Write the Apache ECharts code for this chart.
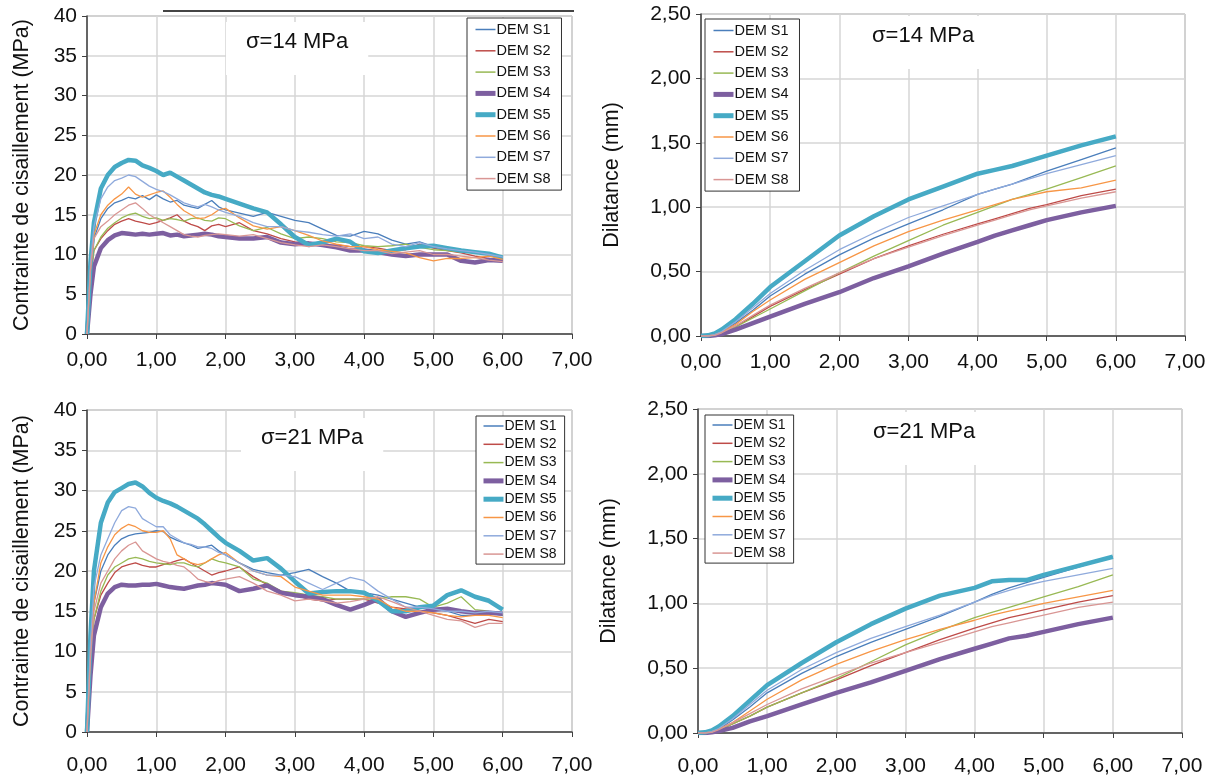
<!DOCTYPE html>
<html><head><meta charset="utf-8">
<script src="https://cdn.jsdelivr.net/npm/echarts@6/dist/echarts.min.js"></script>
<style>html,body{margin:0;padding:0;background:#fff}#c{width:1217px;height:780px}</style>
</head><body><div id="c"></div>
<script>
// ---------- DATA ----------
const NAMES = ['DEM S1','DEM S2','DEM S3','DEM S4','DEM S5','DEM S6','DEM S7','DEM S8'];
const X_TICKS = [0,1,2,3,4,5,6,7];
const X_SHEAR = [0,0.05,0.1,0.2,0.3,0.4,0.5,0.6,0.7,0.8,0.9,1.0,1.1,1.2,1.3,1.4,1.5,1.6,1.7,1.8,1.9,2.0,2.2,2.4,2.6,2.8,3.0,3.2,3.4,3.6,3.8,4.0,4.2,4.4,4.6,4.8,5.0,5.2,5.4,5.6,5.8,6.0];
const X_DIL = [0,0.1,0.2,0.3,0.5,0.75,1.0,1.5,2.0,2.5,3.0,3.5,4.0,4.25,4.5,4.75,5.0,5.5,6.0];

// shear stress, sigma = 14 MPa
const T14_S1 = [0,8,12,14.5,15.8,16.5,16.8,17.2,17.0,17.4,16.9,17.5,17.0,16.6,16.8,16.2,16.0,15.8,16.3,16.8,16.0,15.6,15.2,14.8,15.3,14.8,14.3,14.0,13.2,12.4,12.3,12.9,12.6,11.8,11.3,11.6,11.0,10.8,10.5,10.2,10.0,9.5];
const T14_S2 = [0,7,10.5,12,13,13.8,14.2,14.5,14.2,14.0,13.8,14.0,14.3,14.6,15.0,14.2,13.8,13.5,13.0,13.6,13.8,13.5,14.0,13.0,12.6,12.0,11.6,11.5,11.1,11.2,11.0,11.0,10.8,10.5,10.6,11.3,10.8,10.5,10.2,9.8,9.5,9.2];
const T14_S3 = [0,7,10.5,12.2,13.3,14.0,14.6,15.0,15.2,14.8,14.5,14.6,14.3,14.5,14.4,14.2,14.5,14.6,14.3,14.2,14.6,14.5,13.6,13.0,13.4,12.6,12.0,12.2,12.0,11.6,11.5,11.1,11.0,11.1,11.3,10.9,10.6,10.5,10.3,10.2,10.0,9.8];
const T14_S4 = [0,5,8.5,10.8,11.8,12.4,12.7,12.6,12.5,12.6,12.5,12.6,12.7,12.4,12.5,12.3,12.4,12.5,12.6,12.5,12.3,12.2,12.0,12.0,12.2,11.5,11.3,11.4,11.2,10.9,10.5,10.5,10.3,10.0,9.8,10.0,10.0,10.0,9.2,9.0,9.3,9.2];
const T14_S5 = [0,9,14,18.3,20.0,21.0,21.5,21.9,21.8,21.2,20.9,20.5,20.0,20.3,19.8,19.3,18.8,18.3,17.8,17.5,17.3,17.0,16.4,15.8,15.3,13.8,12.2,11.2,11.5,12.0,11.6,10.4,10.2,10.5,10.8,11.0,11.1,10.8,10.5,10.3,10.1,9.6];
const T14_S6 = [0,8,12.5,15.0,16.2,17.0,17.6,18.5,17.6,17.2,17.5,17.8,18.0,17.2,16.3,15.5,15.0,14.5,14.6,15.0,15.6,15.8,14.6,13.6,13.2,13.5,13.0,12.4,11.7,11.3,11.0,11.0,10.6,10.4,10.2,9.6,9.2,9.5,9.5,9.6,9.8,9.4];
const T14_S7 = [0,9,13.5,17.0,18.5,19.3,19.6,20.0,19.8,19.2,18.6,18.2,17.9,17.5,17.0,16.5,16.2,16.0,16.3,16.0,15.6,15.3,14.8,14.0,13.5,13.5,13.0,12.8,12.5,12.3,12.6,12.0,12.2,11.3,11.0,11.5,11.0,10.7,10.5,10.3,10.0,9.7];
const T14_S8 = [0,8,12,13.5,14.2,15.0,15.6,16.2,16.5,15.8,15.0,14.5,14.0,13.5,13.0,12.5,12.3,12.2,12.4,12.5,12.6,12.5,12.3,12.5,12.0,11.5,11.2,11.0,11.2,11.0,10.7,10.5,10.5,10.1,10.3,10.5,10.0,10.0,9.8,9.6,9.3,9.1];

// shear stress, sigma = 21 MPa
const T21_S1 = [0,10,16,20,22,23.2,24,24.4,24.6,24.7,24.8,25,24.9,24.2,23.8,23.5,23.2,22.8,23.0,23.2,22.5,22,21,20.2,19.8,19.5,19.8,20.2,19.3,18.5,17.5,17.3,17.0,16.5,16.0,15.5,15.3,15.0,14.5,14.5,14.8,14.5];
const T21_S2 = [0,9,14,17,18.5,19.8,20.5,20.8,21,20.7,20.5,20.5,20.8,21,21.3,21.5,21,20.5,20,19.5,19.8,20,20.5,19.3,18.3,17.5,17,16.5,16.3,16.5,16.5,16.5,16,15.5,15.3,15,14.8,14.5,14,13.5,14,13.7];
const T21_S3 = [0,9,14,17.5,19.5,20.5,21,21.5,21.7,21.5,21.2,21,20.9,20.8,21,21,20.7,20.5,21,21.5,21.2,21,20.5,19,18.5,17.5,17.3,17,16.8,16.5,16.5,16.5,16.5,16.8,16.8,16.5,15.5,16,16.8,15.2,15,14.5];
const T21_S4 = [0,7,12,15.5,17.2,18,18.3,18.2,18.2,18.3,18.3,18.4,18.2,18,17.9,17.8,18,18.2,18.3,18.5,18.4,18.3,17.5,17.8,18.2,17.3,17,16.8,16.5,15.8,15.2,15.8,16.5,15,14.3,14.8,15.2,15.3,15,14.8,14.8,14.7];
const T21_S5 = [0,12,20,26,28.5,29.8,30.3,30.8,31,30.5,29.7,29.1,28.7,28.4,28,27.5,27,26.5,25.8,25,24.2,23.5,22.5,21.3,21.6,20.3,18.7,17.2,17.4,17.5,17.5,17.3,16.3,15,15,15.5,15.7,17,17.6,16.8,16.3,15.2];
const T21_S6 = [0,10,16,21,23,24.5,25.3,25.8,25.5,25,24.8,24.8,25,24,22,21.5,21,20.8,21,21.5,22,22.3,21,20,19.5,19.3,18,17.5,17,17,17,16.8,16.5,15.5,15,15,14.8,14.5,14.3,14.5,14.5,14.2];
const T21_S7 = [0,11,18,22,24,26,27.5,28,27.8,26.5,26,25.5,25.5,24.5,24,23.5,23.3,23,23,22.8,22.3,22,21,20,19.5,19.5,19.3,18.5,17.7,18.5,19.2,18.8,17.5,16.5,15.5,15.5,15.3,15,15,14.8,15,14.8];
const T21_S8 = [0,9,15,18.5,20,21.5,22.5,23.2,23.6,22.5,22,21.5,21.2,21,20.7,20.5,19.8,19,18.7,18.5,18.8,19,19.3,18.5,17.5,17,16.3,16.5,16.3,16,16.2,16.5,16.8,16.2,15.5,15,14.5,14,13.8,13,13.5,13.5];

// dilatance, sigma = 14 MPa
const D14_S1 = [0,0,0.01,0.03,0.1,0.2,0.31,0.48,0.63,0.76,0.87,0.98,1.1,1.14,1.18,1.23,1.28,1.37,1.46];
const D14_S2 = [0,0,0.005,0.02,0.07,0.15,0.23,0.36,0.48,0.6,0.7,0.79,0.87,0.91,0.95,0.99,1.02,1.09,1.14];
const D14_S3 = [0,0,0.005,0.02,0.07,0.14,0.21,0.35,0.49,0.62,0.74,0.86,0.96,1.01,1.06,1.1,1.14,1.23,1.32];
const D14_S4 = [0,0,0.005,0.015,0.05,0.1,0.15,0.25,0.34,0.45,0.54,0.64,0.73,0.78,0.82,0.86,0.9,0.96,1.01];
const D14_S5 = [0,0.005,0.02,0.05,0.13,0.25,0.38,0.58,0.78,0.93,1.06,1.16,1.26,1.29,1.32,1.36,1.40,1.48,1.55];
const D14_S6 = [0,0,0.01,0.03,0.09,0.19,0.28,0.44,0.57,0.7,0.81,0.9,0.98,1.02,1.06,1.09,1.12,1.15,1.21];
const D14_S7 = [0,0,0.01,0.035,0.11,0.22,0.33,0.51,0.67,0.8,0.92,1.01,1.1,1.14,1.18,1.22,1.26,1.33,1.40];
const D14_S8 = [0,0,0.005,0.025,0.08,0.16,0.24,0.37,0.49,0.6,0.69,0.78,0.86,0.9,0.94,0.98,1.01,1.07,1.12];

// dilatance, sigma = 21 MPa
const D21_S1 = [0,0,0.01,0.03,0.1,0.2,0.31,0.46,0.59,0.7,0.8,0.9,1.01,1.07,1.12,1.16,1.2,1.28,1.36];
const D21_S2 = [0,0,0.005,0.02,0.07,0.13,0.2,0.31,0.41,0.52,0.62,0.72,0.81,0.85,0.89,0.92,0.95,1.01,1.06];
const D21_S3 = [0,0,0.005,0.02,0.07,0.13,0.2,0.31,0.42,0.55,0.68,0.79,0.89,0.93,0.97,1.01,1.05,1.13,1.22];
const D21_S4 = [0,0,0.005,0.015,0.04,0.09,0.13,0.22,0.31,0.39,0.48,0.57,0.65,0.69,0.73,0.75,0.78,0.84,0.89];
const D21_S5 = [0,0.005,0.02,0.05,0.13,0.25,0.37,0.54,0.7,0.84,0.96,1.06,1.12,1.17,1.18,1.18,1.22,1.29,1.36];
const D21_S6 = [0,0,0.01,0.03,0.08,0.17,0.26,0.41,0.53,0.63,0.72,0.8,0.87,0.91,0.94,0.97,1.0,1.05,1.1];
const D21_S7 = [0,0,0.01,0.035,0.11,0.22,0.33,0.49,0.62,0.73,0.82,0.91,1.01,1.06,1.1,1.14,1.17,1.22,1.27];
const D21_S8 = [0,0,0.005,0.025,0.08,0.15,0.22,0.34,0.44,0.54,0.62,0.7,0.78,0.82,0.85,0.88,0.91,0.97,1.01];

const TITLES = ['σ=14 MPa','σ=14 MPa','σ=21 MPa','σ=21 MPa'];
const Y_NAMES = ['Contrainte de cisaillement (MPa)','Dilatance (mm)','Contrainte de cisaillement (MPa)','Dilatance (mm)'];

// ---------- STYLE ----------
const COLORS = ['#4A7EBB','#BE4B48','#98B954','#7D5FA0','#46AAC5','#F79646','#8FAADC','#D99694'];
const WIDTHS = [1.3,1.3,1.3,4.5,4.5,1.3,1.3,1.3];
const FONT = 'Liberation Sans, Arial, sans-serif';

const panels = [
  {x: X_SHEAR, ys: [T14_S1,T14_S2,T14_S3,T14_S4,T14_S5,T14_S6,T14_S7,T14_S8], type:'shear'},
  {x: X_DIL,   ys: [D14_S1,D14_S2,D14_S3,D14_S4,D14_S5,D14_S6,D14_S7,D14_S8], type:'dil'},
  {x: X_SHEAR, ys: [T21_S1,T21_S2,T21_S3,T21_S4,T21_S5,T21_S6,T21_S7,T21_S8], type:'shear'},
  {x: X_DIL,   ys: [D21_S1,D21_S2,D21_S3,D21_S4,D21_S5,D21_S6,D21_S7,D21_S8], type:'dil'}
];

const GRIDS = [
  {left:87, top:16, width:485, height:318},
  {left:701, top:14, width:484, height:322},
  {left:87, top:410, width:485, height:322},
  {left:698, top:409, width:484, height:324}
];
const LABEL_MARGIN = [16, 16, 23, 23];
const LEGENDS = [
  {left:467, top:18, itemHeight:14, itemGap:6.3, padding:[4,11,4,6], fontSize:14.5},
  {left:705, top:19, itemHeight:14, itemGap:6.3, padding:[4,11,4,6], fontSize:14.5},
  {left:476, top:416, itemHeight:13, itemGap:4.3, padding:[3,8,3,5], fontSize:14},
  {left:705, top:415, itemHeight:13, itemGap:4.3, padding:[3,8,3,5], fontSize:14}
];
const TITLE_POS = [
  {left:226, top:22},
  {left:852, top:16},
  {left:241, top:418},
  {left:853, top:412}
];

const comma = (v, d) => v.toFixed(d).replace('.', ',');

const option = {
  animation: false,
  backgroundColor: '#fff',
  textStyle: {fontFamily: FONT},
  grid: GRIDS.map(g => Object.assign({show:true, borderColor:'#8c8c8c', borderWidth:1, backgroundColor:'transparent'}, g)),
  title: TITLES.map((t, i) => ({
    text: t, left: TITLE_POS[i].left, top: TITLE_POS[i].top,
    backgroundColor: '#fff',
    padding: [9, 20, 22, 20],
    textStyle: {fontFamily: FONT, fontSize: 22, fontWeight: 'normal', color: '#111'}
  })),
  legend: LEGENDS.map((l, i) => ({
    orient: 'vertical', left: l.left, top: l.top,
    itemWidth: 20, itemHeight: l.itemHeight, itemGap: l.itemGap, padding: l.padding,
    borderColor: '#333', borderWidth: 1, backgroundColor: '#fff',
    itemStyle: {opacity: 0, color: 'rgba(0,0,0,0)', borderWidth: 0},
    textStyle: {fontFamily: FONT, fontSize: l.fontSize, color: '#111', padding: [0,0,0,-4]},
    data: NAMES.map((n, k) => ({name: n, lineStyle: {width: WIDTHS[k] > 2 ? 5 : 1.5, color: COLORS[k], opacity: 1}})),
    selectedMode: false
  })),
  xAxis: panels.map((p, i) => ({
    type: 'value', gridIndex: i, min: X_TICKS[0], max: X_TICKS[X_TICKS.length - 1], interval: 1,
    axisLine: {show: true, lineStyle: {color: '#404040', width: 1.5}},
    axisTick: {show: true, length: 5, lineStyle: {color: '#404040'}},
    splitLine: {show: true, lineStyle: {color: '#d6d6d6', width: 1.5}},
    axisLabel: {fontFamily: FONT, fontSize: 21, color: '#111', margin: LABEL_MARGIN[i], formatter: v => comma(v, 2)}
  })),
  yAxis: panels.map((p, i) => ({
    type: 'value', gridIndex: i, min: 0,
    max: p.type === 'shear' ? 40 : 2.5, interval: p.type === 'shear' ? 5 : 0.5,
    name: Y_NAMES[i], nameLocation: 'middle', nameGap: p.type === 'shear' ? 54 : 78,
    nameTextStyle: {fontFamily: FONT, fontSize: 21.5, color: '#111'},
    axisLine: {show: true, lineStyle: {color: '#404040', width: 1.5}},
    axisTick: {show: true, length: 5, lineStyle: {color: '#404040'}},
    splitLine: {show: true, lineStyle: {color: '#d6d6d6', width: 1.5}},
    axisLabel: {fontFamily: FONT, fontSize: 21, color: '#111', margin: 10,
      formatter: v => p.type === 'shear' ? String(v) : comma(v, 2)}
  })),
  series: [],
  graphic: [
    {type: 'line', shape: {x1: 163, y1: 11, x2: 574, y2: 11}, style: {stroke: '#444', lineWidth: 2}, z: 100}
  ]
};

panels.forEach((p, gi) => {
  p.ys.forEach((ys, si) => {
    option.series.push({
      type: 'line', name: NAMES[si], xAxisIndex: gi, yAxisIndex: gi,
      symbol: 'none', showSymbol: false,
      lineStyle: {color: COLORS[si], width: WIDTHS[si]},
      itemStyle: {color: COLORS[si]},
      data: p.x.map((x, k) => [x, ys[k]])
    });
  });
});

echarts.init(document.getElementById('c'), null, {renderer: 'canvas'}).setOption(option);
</script></body></html>
